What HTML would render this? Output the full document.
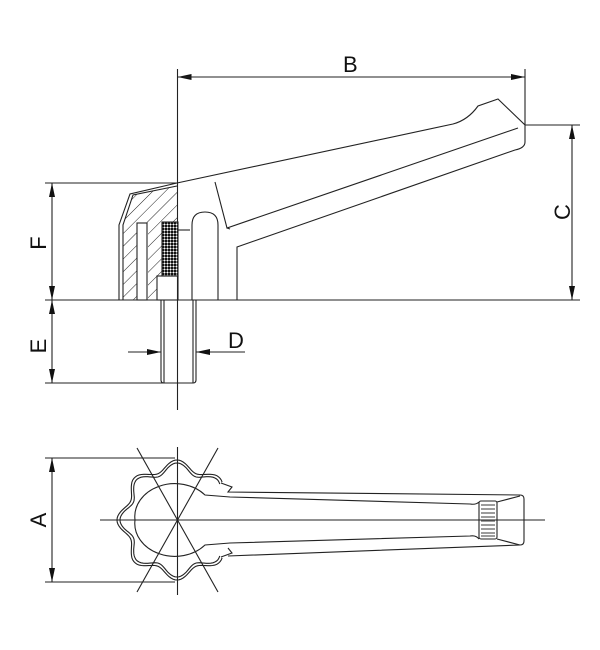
<!DOCTYPE html>
<html><head><meta charset="utf-8"><style>html,body{margin:0;padding:0;background:#fff}svg{display:block}</style></head>
<body>
<svg width="600" height="650" viewBox="0 0 600 650" xmlns="http://www.w3.org/2000/svg" font-family="Liberation Sans, sans-serif">
<defs>
<pattern id="h" width="9" height="9" patternUnits="userSpaceOnUse" patternTransform="rotate(45)"><line x1="0" y1="0" x2="0" y2="9" stroke="#222" stroke-width="1"/></pattern>
<pattern id="x" width="3" height="3" patternUnits="userSpaceOnUse"><rect width="3" height="3" fill="#888"/><rect width="2" height="2" fill="#111"/><rect x="2" y="2" width="1" height="1" fill="#fff"/></pattern>
<marker id="a" markerWidth="14" markerHeight="6" refX="14" refY="3" orient="auto" markerUnits="userSpaceOnUse"><path d="M0,0L14,3L0,6z" fill="#111"/></marker>
</defs>
<g stroke="#222" stroke-width="1.1" fill="none">
<line x1="177.5" y1="69" x2="177.5" y2="410"/>
<line x1="177.5" y1="447" x2="177.5" y2="595"/>
<line x1="100" y1="520" x2="545" y2="520"/>
<line x1="137" y1="448" x2="218" y2="592"/>
<line x1="218" y1="448" x2="137" y2="592"/>
<line x1="200" y1="77" x2="177.5" y2="77" marker-end="url(#a)"/>
<line x1="300" y1="77" x2="525" y2="77" marker-end="url(#a)"/>
<line x1="180" y1="77" x2="300" y2="77"/>
<line x1="525" y1="69" x2="525" y2="125"/>
<line x1="525" y1="125" x2="580" y2="125"/>
<line x1="572" y1="200" x2="572" y2="125" marker-end="url(#a)"/>
<line x1="572" y1="200" x2="572" y2="300" marker-end="url(#a)"/>
<line x1="45" y1="300" x2="580" y2="300"/>
<line x1="45" y1="183" x2="177" y2="183"/>
<line x1="52" y1="240" x2="52" y2="183" marker-end="url(#a)"/>
<line x1="52" y1="240" x2="52" y2="300" marker-end="url(#a)"/>
<line x1="52" y1="340" x2="52" y2="300" marker-end="url(#a)"/>
<line x1="52" y1="340" x2="52" y2="383" marker-end="url(#a)"/>
<line x1="45" y1="383" x2="165" y2="383"/>
<line x1="128" y1="352" x2="161" y2="352" marker-end="url(#a)"/>
<line x1="245" y1="352" x2="196" y2="352" marker-end="url(#a)"/>
<path d="M161,300V380q0,3 3,3H193q3,0 3,-3V300"/>
<line x1="164" y1="300" x2="164" y2="383"/><line x1="193" y1="300" x2="193" y2="383"/>
<path d="M123,300V225L133,195L177,186V222H162V276H157V300H148V223H137V300Z" fill="url(#h)" stroke="none"/>
<path d="M119,300V225L130,194L177,183"/>
<path d="M123,300V225L133,195L177,186"/>
<rect x="137" y="223" width="10" height="77"/>
<rect x="162" y="222" width="16" height="54" fill="url(#x)"/>
<rect x="157" y="276" width="21" height="24"/>
<line x1="177" y1="230" x2="190" y2="230"/>
<path d="M192,300V225Q192,212 205,212Q218,212 218,225V300"/>
<path d="M177,183L453,124Q468,120 478,106L498,99L525,125V142Q525,148 515,150L237,247V300"/>
<path d="M215,182L227,228L518,128"/>
<line x1="227" y1="228" x2="230" y2="229"/>
<path id="ring1"/><path id="ring2"/>
<path d="M221,483L232,487L228,492L520,495Q524,495 524,499V541Q524,545 520,545L228,556"/>
<path d="M228,548L232,553L221,557"/>
<path d="M135,520A40,33 0 0 1 205,495L230,497L470,504Q476,505 479,502"/>
<path d="M135,520A40,33 0 0 0 205,545L230,543L470,536Q476,535 479,539"/>
<rect x="479" y="501" width="18" height="38" rx="2"/>
<path d="M497,502L520,496M497,539L520,545"/>
<g stroke-width="1.3" stroke="#666">
<line x1="481" y1="505" x2="495" y2="505"/><line x1="481" y1="509" x2="495" y2="509"/><line x1="481" y1="513" x2="495" y2="513"/><line x1="481" y1="517" x2="495" y2="517"/><line x1="481" y1="521" x2="495" y2="521"/><line x1="481" y1="525" x2="495" y2="525"/><line x1="481" y1="529" x2="495" y2="529"/><line x1="481" y1="533" x2="495" y2="533"/><line x1="481" y1="536" x2="495" y2="536"/>
</g>
<line x1="45" y1="458" x2="175" y2="458"/>
<line x1="45" y1="582" x2="175" y2="582"/>
<line x1="52" y1="520" x2="52" y2="458" marker-end="url(#a)"/>
<line x1="52" y1="520" x2="52" y2="582" marker-end="url(#a)"/>
</g>
<g font-size="22" fill="#111">
<text x="343" y="72">B</text>
<text x="228" y="348">D</text>
<text transform="translate(570,212) rotate(-90)" text-anchor="middle">C</text>
<text transform="translate(46,243) rotate(-90)" text-anchor="middle">F</text>
<text transform="translate(46,346) rotate(-90)" text-anchor="middle">E</text>
<text transform="translate(46,520) rotate(-90)" text-anchor="middle">A</text>
</g>
<script>
function ring(id,off){var d='';for(var t=40;t<=320;t+=2){var r=(55+5*Math.cos(8*(t-90)*Math.PI/180))-off;var x=177+r*Math.cos(t*Math.PI/180),y=520-r*Math.sin(t*Math.PI/180);d+=(t==40?'M':'L')+x.toFixed(1)+','+y.toFixed(1);}document.getElementById(id).setAttribute('d',d);}
ring('ring1',0);ring('ring2',3);
</script>
</svg>
</body></html>
